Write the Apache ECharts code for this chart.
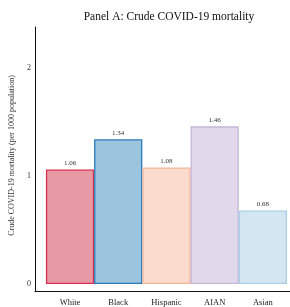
<!DOCTYPE html>
<html>
<head>
<meta charset="utf-8">
<script src="https://cdn.jsdelivr.net/npm/echarts@6/dist/echarts.min.js"></script>
<style>
  html, body { margin: 0; padding: 0; background: #fff; }
  #chart { width: 290px; height: 307px; }
</style>
</head>
<body>
<div id="chart"></div>
<script>
// data
var groups = ['White', 'Black', 'Hispanic', 'AIAN', 'Asian'];
var mortality = [1.06, 1.34, 1.08, 1.46, 0.68];
var fillColors = ['#e899a6', '#9bc5df', '#fadbcd', '#e1d9eb', '#d3e6f2'];
var edgeColors = ['#d6314f', '#2b7bba', '#f4b699', '#c5b6da', '#a9cfe8'];
var yTicks = [0, 1, 2];

var serif = 'Liberation Serif';
var chart = echarts.init(document.getElementById('chart'));

chart.setOption({
  animation: false,
  title: {
    text: 'Panel A: Crude COVID-19 mortality',
    left: 164, top: 6, textAlign: 'center',
    textStyle: { fontFamily: serif, fontSize: 11.5, fontWeight: 'normal', color: '#111' }
  },
  grid: [
    { left: 41, right: 3, top: 27, bottom: 23 },
    // frame only: the L shaped axis lines
    { left: 35, right: 0, top: 27, bottom: 16 }
  ],
  xAxis: [
    {
      type: 'category', gridIndex: 0, data: groups,
      axisLine: { show: false }, axisTick: { show: false },
      axisLabel: { margin: 14, fontFamily: serif, fontSize: 8.5, color: '#222' }
    },
    {
      type: 'value', gridIndex: 1, min: 0, max: 1,
      axisLine: { show: true, lineStyle: { color: '#111', width: 1 } },
      axisTick: { show: false }, axisLabel: { show: false }, splitLine: { show: false }
    }
  ],
  yAxis: [
    {
      type: 'value', gridIndex: 0, min: yTicks[0], max: 2.38, interval: 1,
      axisLine: { show: false }, axisTick: { show: false }, splitLine: { show: false },
      axisLabel: { margin: 15, showMaxLabel: false, fontFamily: serif, fontSize: 8, color: '#333' },
      name: 'Crude COVID-19 mortality (per 1000 population)',
      nameLocation: 'middle', nameGap: 28,
      nameTextStyle: { fontFamily: serif, fontSize: 8, color: '#333' }
    },
    {
      type: 'value', gridIndex: 1, min: 0, max: 1,
      axisLine: { show: true, lineStyle: { color: '#111', width: 1 } },
      axisTick: { show: false }, axisLabel: { show: false }, splitLine: { show: false }
    }
  ],
  series: [{
    type: 'bar',
    xAxisIndex: 0, yAxisIndex: 0,
    barCategoryGap: '0%',
    data: mortality.map(function (v, i) {
      return {
        value: v,
        itemStyle: { color: fillColors[i], borderColor: edgeColors[i], borderWidth: 1.3 }
      };
    }),
    label: {
      show: true, position: 'top', distance: 3,
      fontFamily: serif, fontSize: 7, color: '#333',
      formatter: function (p) { return p.value.toFixed(2); }
    }
  }]
});
</script>
</body>
</html>
